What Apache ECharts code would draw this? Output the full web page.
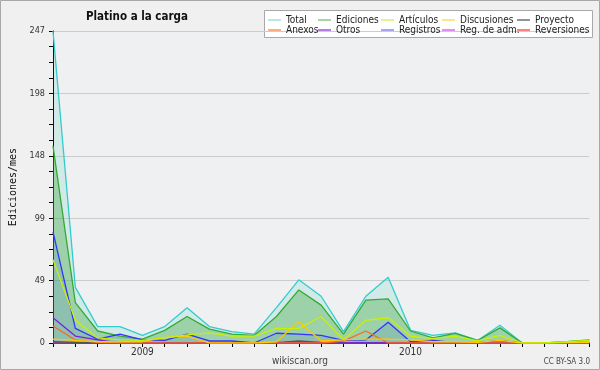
<!DOCTYPE html>
<html>
<head>
<meta charset="utf-8">
<script src="https://cdn.jsdelivr.net/npm/echarts@6/dist/echarts.min.js"></script>
<style>
  html, body { margin: 0; padding: 0; background: #f0f0f0; }
  #main { width: 600px; height: 370px; }
</style>
</head>
<body>
<div id="main"></div>
<script>
// meses: sep 2008 .. sep 2010
var months = ['2008-09', '2008-10', '2008-11', '2008-12',
  '2009-01', '2009-02', '2009-03', '2009-04', '2009-05', '2009-06',
  '2009-07', '2009-08', '2009-09', '2009-10', '2009-11', '2009-12',
  '2010-01', '2010-02', '2010-03', '2010-04', '2010-05', '2010-06',
  '2010-07', '2010-08', '2010-09']

var total       = [247, 44, 13, 13, 6, 13, 28, 13, 9, 7, 28, 50, 37, 9, 37, 52, 10, 6, 8, 2, 14, 0, 0, 1, 2]
var ediciones   = [156, 32, 9.5, 5.5, 3, 10, 21, 11, 7, 6, 21, 42, 30, 7, 34, 35, 9.5, 4, 7.7, 2, 12, 0, 0, 1, 2.4]
var articulos   = [66, 18, 4, 2.5, 2, 4, 6.5, 8, 5.5, 5.5, 11.5, 11.5, 21, 2.5, 18, 20, 5.5, 3.5, 5.5, 1.6, 6, 0, 0, 1, 2]
var discusiones = [3, 2, 1, 1, 1, 4.5, 5.5, 0, 0, 0, 1, 17, 1.6, 2.4, 3, 3, 2.4, 1, 1, 0.5, 2, 0, 0, 0.3, 0.5]
var proyecto    = [1, 0.5, 0, 0, 0, 0, 0, 0, 0, 0, 0.3, 1.6, 0.5, 0, 0, 0, 0, 0, 0, 0, 0, 0, 0, 0, 0]
var anexos      = [13.5, 2.4, 0.5, 0, 0, 0, 0, 0, 0, 0, 0, 0, 0, 1.5, 9.5, 0, 0, 0, 0, 0, 0, 0, 0, 0, 0]
var otros       = [20, 5.5, 2.4, 0, 0, 0, 0, 0, 0, 0, 0, 0, 0, 0, 0, 0, 0, 0, 0, 0, 0, 0, 0, 0, 0]
var registros   = [88, 11.6, 3, 7, 2.4, 2, 7, 1.6, 1.6, 0, 7.7, 7, 6, 2, 2.4, 16.4, 1, 2, 0.3, 0.3, 1.8, 0, 0, 0, 0]
var regadm      = [0, 0, 0, 0, 0, 0, 0, 0, 0, 0, 0, 0, 0, 0, 0, 0, 0, 0, 0, 0, 0, 0, 0, 0, 0]
var reversiones = [0, 0, 0, 0, 0, 0, 0, 0, 0, 0, 0, 0, 0, 0, 0, 0, 0, 0, 0, 0, 0, 0, 0, 0, 0]

var yMax = 247

var font = 'DejaVu Sans Condensed, DejaVu Sans, sans-serif'

// leyenda: nombre, color de leyenda
var legendItems = [
  ['Total', '#9fe0dc'],
  ['Ediciones', '#88c888'],
  ['Artículos', '#d6f070'],
  ['Discusiones', '#ffd866'],
  ['Proyecto', '#707070'],
  ['Anexos', '#ff9055'],
  ['Otros', '#9a55dd'],
  ['Registros', '#8888ee'],
  ['Reg. de adm.', '#dd66ee'],
  ['Reversiones', '#ff5555']
]
var colX = [268, 318, 381, 442, 517]
var rowY = [15, 25]

var myChart = echarts.init(document.getElementById('main'))

function lineSeries(name, data, color, area) {
  var s = {
    name: name,
    type: 'line',
    data: data,
    symbol: 'none',
    lineStyle: { color: color, width: 1.3 },
    itemStyle: { color: color },
    z: area ? 2 : 3
  }
  if (area) s.areaStyle = area
  return s
}

var option = {
  animation: false,
  backgroundColor: '#f0f0f0',
  title: {
    text: 'Platino a la carga',
    left: 81,
    top: 6,
    textStyle: { fontFamily: font, fontSize: 11.5, fontWeight: 'bold', color: '#111' }
  },
  legend: legendItems.map(function (it, k) {
    return {
      data: [{ name: it[0], itemStyle: { color: it[1] } }],
      left: colX[k % 5],
      top: rowY[Math.floor(k / 5)],
      icon: 'rect',
      itemWidth: 13,
      itemHeight: 1.5,
      selectedMode: false,
      padding: 0,
      textStyle: { fontFamily: font, fontSize: 10, color: '#222' }
    }
  }),
  grid: {
    left: 46.7,
    right: 10.7,
    top: 31,
    bottom: 27,
    show: true,
    backgroundColor: '#eef0f2',
    borderWidth: 0
  },
  xAxis: {
    type: 'category',
    data: months,
    boundaryGap: false,
    axisLine: { lineStyle: { color: '#000', width: 1 } },
    axisTick: { show: true, interval: 0, length: 4, lineStyle: { color: '#000' } },
    axisLabel: {
      interval: 0,
      margin: 4,
      fontFamily: font,
      fontSize: 10,
      color: '#333',
      formatter: function (v) {
        return v.slice(5) === '01' ? v.slice(0, 4) : ''
      }
    },
    splitLine: { show: false }
  },
  yAxis: {
    type: 'value',
    min: 0,
    max: yMax,
    interval: yMax / 5,
    name: 'Ediciones/mes',
    nameLocation: 'middle',
    nameGap: 35,
    nameTextStyle: { fontFamily: 'DejaVu Sans Mono, monospace', fontSize: 10, color: '#111' },
    axisLine: { show: true, lineStyle: { color: '#000', width: 1 } },
    axisTick: { show: true, length: 4, lineStyle: { color: '#000' } },
    minorTick: { show: true, splitNumber: 4, length: 4, lineStyle: { color: '#000' } },
    axisLabel: {
      margin: 8,
      fontFamily: font,
      fontSize: 9,
      color: '#333',
      formatter: function (v) { return Math.round(v) }
    },
    splitLine: { show: true, lineStyle: { color: '#cccccc', width: 1 } }
  },
  graphic: [
    {
      type: 'rect',
      shape: { x: 0.5, y: 0.5, width: 599, height: 369 },
      style: { fill: 'none', stroke: '#a8a8a8', lineWidth: 1 },
      z: -10
    },
    {
      type: 'rect',
      shape: { x: 264.5, y: 10.5, width: 328, height: 27 },
      style: { fill: '#ffffff', stroke: '#a8a8a8', lineWidth: 1 },
      z: 0
    },
    {
      type: 'text',
      x: 300,
      y: 361,
      style: { text: 'wikiscan.org', fontFamily: font, fontSize: 10, fill: '#444', align: 'center', verticalAlign: 'middle' }
    },
    {
      type: 'text',
      x: 590,
      y: 362,
      style: { text: 'CC BY-SA 3.0', fontFamily: font, fontSize: 8, fill: '#444', align: 'right', verticalAlign: 'middle' }
    }
  ],
  series: [
    lineSeries('Total', total, '#33cccc', { color: 'rgba(40,200,170,0.2)' }),
    lineSeries('Ediciones', ediciones, '#33aa33', { color: 'rgba(60,165,60,0.5)' }),
    lineSeries('Registros', registros, '#3333ff', { color: 'rgba(30,60,220,0.16)' }),
    // las series en cero van primero para quedar debajo
    lineSeries('Reversiones', reversiones, '#ff2222'),
    lineSeries('Reg. de adm.', regadm, '#dd22dd'),
    lineSeries('Proyecto', proyecto, '#555555'),
    lineSeries('Otros', otros, '#7722dd'),
    lineSeries('Anexos', anexos, '#ff6622'),
    lineSeries('Discusiones', discusiones, '#ffc800'),
    lineSeries('Artículos', articulos, '#c8f000')
  ]
}

myChart.setOption(option)
</script>
</body>
</html>
